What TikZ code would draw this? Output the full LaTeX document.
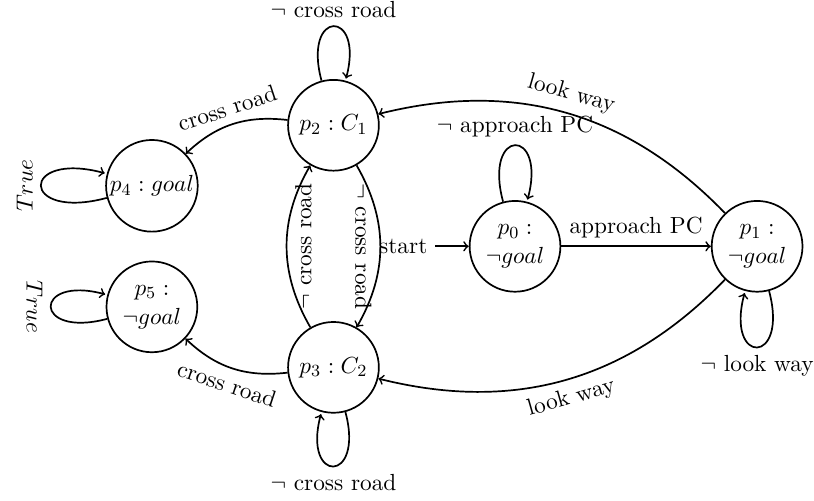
\documentclass[tikz,border=0pt,11pt]{standalone}
\usepackage{amsmath}
\usetikzlibrary{positioning}

\begin{document}
\begin{tikzpicture}
[stateDecorate/.style={shape=circle,draw,thick,minimum size=1.5cm,inner sep=1pt,align=center},%
  lineDecorate/.style={->,thick},
  wideLoop/.style={every loop/.append style={looseness=#1}}]
\useasboundingbox (-8.51,-4.2) rectangle (4.94,4.07);
%% states
\foreach \nodename/\x/\y/\nodetext in {p0/0/0/{$p_0:$\\$\neg goal$}, p1/4/0/{$p_1:$\\$\neg goal$},
    p2/-3/2/{$p_2:C_1$}, p3/-3/-2/{$p_3:C_2$}, p4/-6/1/{$p_4:goal$}, p5/-6/-1/{$p_5:$\\$\neg goal$}} {
  \node (\nodename) at (\x,\y) [stateDecorate] {\nodetext};
}
%% initial state
\node (start) [left=5.5mm of p0] {start};
\draw[lineDecorate] (start) -- (p0);
%% transitions
\path
  (p0) edge[lineDecorate,wideLoop=8.3,loop above] node[above] {$\neg$ approach PC} ()
  (p0) edge[lineDecorate] node[above] {approach PC} (p1)
  (p1) edge[lineDecorate,wideLoop=8.3,loop below] node[below] {$\neg$ look way} ()
  (p1) edge[lineDecorate,bend right=30] node[sloped,above] {look way} (p2)
  (p1) edge[lineDecorate,bend left=30] node[sloped,below] {look way} (p3)
  (p2) edge[lineDecorate,loop above] node[above] {$\neg$ cross road} ()
  (p3) edge[lineDecorate,loop below] node[below] {$\neg$ cross road} ()
  (p2) edge[lineDecorate,bend left=30] node[sloped,below] {$\neg$ cross road} (p3)
  (p3) edge[lineDecorate,bend left=30] node[sloped,below] {$\neg$ cross road} (p2)
  (p2) edge[lineDecorate,bend right=25] node[sloped,above] {cross road} (p4)
  (p3) edge[lineDecorate,bend left=25] node[sloped,below] {cross road} (p5)
  (p4) edge[lineDecorate,wideLoop=9.6,loop left] node[anchor=south,rotate=90] {$True$} ()
  (p5) edge[lineDecorate,wideLoop=8.3,loop left] node[anchor=north,rotate=-90] {$True$} ();
\end{tikzpicture}
\end{document}
